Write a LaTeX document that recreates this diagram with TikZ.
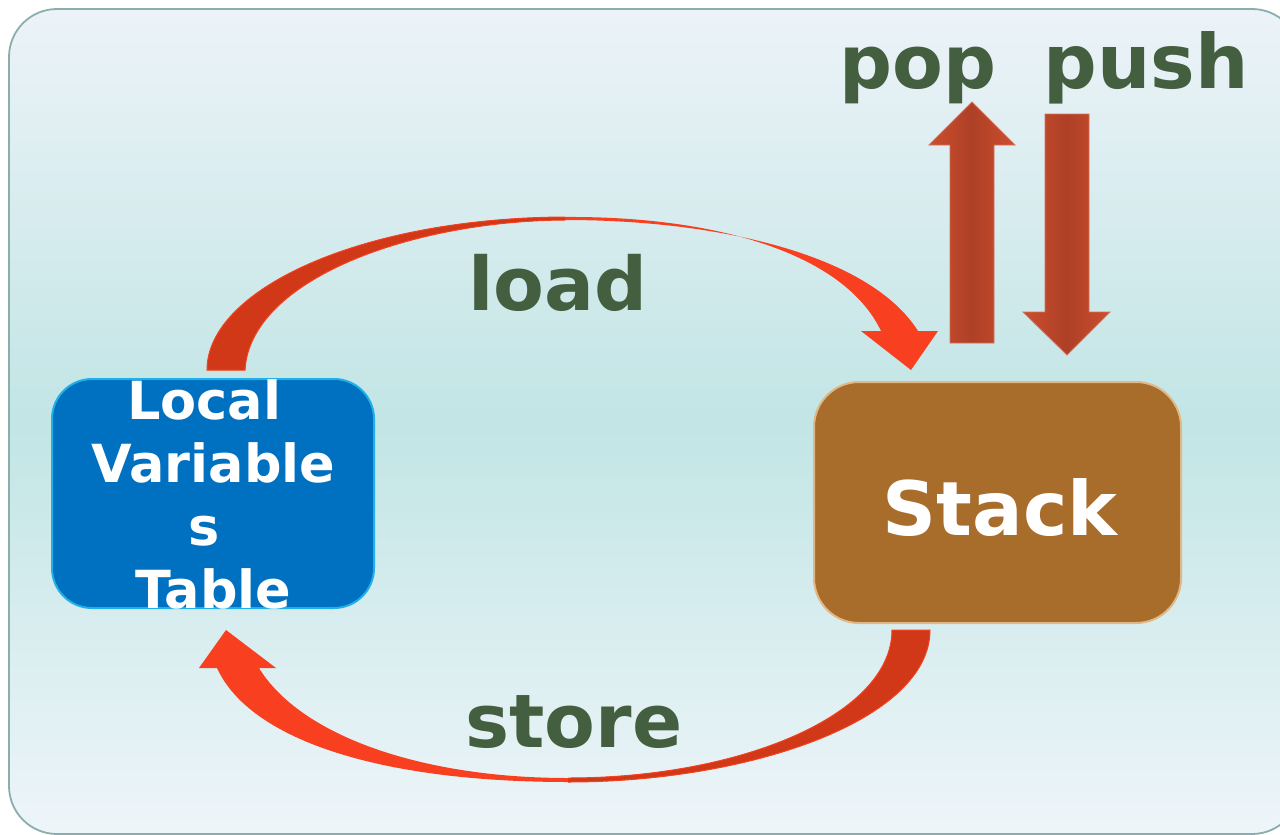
\documentclass[tikz,border=0pt]{standalone}
\usepackage{fontspec}
\setmainfont{DejaVu Sans}
\definecolor{bgtop}{HTML}{ECF3F8}
\definecolor{bgmid}{HTML}{C2E5E5}
\definecolor{bgbot}{HTML}{EEF5F9}
\definecolor{bgline}{HTML}{8AAEAE}
\definecolor{lblue}{HTML}{0070C0}
\definecolor{lblueline}{HTML}{20B0E8}
\definecolor{stk}{HTML}{A86C2B}
\definecolor{stkline}{HTML}{E0B888}
\definecolor{txtgreen}{HTML}{445E40}
\definecolor{arrdark}{HTML}{D03818}
\definecolor{arrbright}{HTML}{F84020}
\definecolor{ppedge}{HTML}{CC4E2E}
\definecolor{ppmid}{HTML}{AE4026}
\definecolor{ppline}{HTML}{D8705A}
\begin{document}
\begin{tikzpicture}[x=1pt,y=-1pt,
  boxstyle/.style={inner sep=0pt, line width=2pt},
  biglabel/.style={text=txtgreen, font=\fontsize{74}{80}\selectfont\bfseries, inner sep=0pt, anchor=base},
  whitelabel/.style={text=white, inner sep=0pt},
  blockarrow/.style={draw=ppline, line width=0.8pt, left color=ppedge, right color=ppedge, middle color=ppmid}
]
\useasboundingbox (0,0) rectangle (1280,835);
% background
\draw[bgline, line width=1.8pt, rounded corners=48pt, top color=bgtop, bottom color=bgbot, middle color=bgmid] (9,9) rectangle (1300,834);

% boxes
\node[boxstyle, draw=lblueline, fill=lblue, rounded corners=40pt, minimum width=322pt, minimum height=229pt] (lvt) at (213,493.5) {};
\node[boxstyle, draw=stkline, fill=stk, rounded corners=45pt, minimum width=367pt, minimum height=241pt] (stack) at (997.5,502.5) {};

\node[whitelabel, align=center, font=\fontsize{52.5}{63}\selectfont\bfseries] (lvttext) at (213.5,494) {Local\kern.35em\\Variable\\s\kern.35em\\Table};
\node[whitelabel, anchor=base, font=\fontsize{75}{80}\selectfont\bfseries] (stacktext) at (1000,535) {Stack};

% load arrow
\coordinate (loadtip) at (911,370);
\fill[arrbright] (207,370) .. controls (207,290) and (360,218) .. (565,217) .. controls (720,216) and (845,255) .. (881,331) -- (861,331) -- (loadtip) -- (938,331) -- (918,331) .. controls (870,255) and (720,220) .. (565,220) .. controls (410,221) and (250,280) .. (245,370) -- cycle;
\begin{scope}
\clip (150,150) rectangle (565,400);
\filldraw[fill=arrdark, draw=arrbright, line width=1pt] (207,370) .. controls (207,290) and (360,218) .. (565,217) .. controls (720,216) and (845,255) .. (881,331) -- (861,331) -- (loadtip) -- (938,331) -- (918,331) .. controls (870,255) and (720,220) .. (565,220) .. controls (410,221) and (250,280) .. (245,370) -- cycle;
\end{scope}

% store arrow
\coordinate (storetip) at (226,630);
\fill[arrbright] (930,630) .. controls (930,720) and (750,782) .. (568,782) .. controls (380,782) and (250,740) .. (217,668) -- (199,668) -- (storetip) -- (276,668) -- (259,668) .. controls (300,735) and (420,778) .. (568,778) .. controls (740,778) and (892,715) .. (892,630) -- cycle;
\begin{scope}
\clip (568,600) rectangle (1000,800);
\filldraw[fill=arrdark, draw=arrbright, line width=1pt] (930,630) .. controls (930,720) and (750,782) .. (568,782) .. controls (380,782) and (250,740) .. (217,668) -- (199,668) -- (storetip) -- (276,668) -- (259,668) .. controls (300,735) and (420,778) .. (568,778) .. controls (740,778) and (892,715) .. (892,630) -- cycle;
\end{scope}

% pop / push arrows
\draw[blockarrow] (950,343) -- (950,145) -- (929,145) -- (972,102) -- (1015,145) -- (994,145) -- (994,343) -- cycle;
\draw[blockarrow] (1045,114) -- (1045,312) -- (1023,312) -- (1067,355) -- (1110,312) -- (1089,312) -- (1089,114) -- cycle;

% labels
\node[biglabel] (loadlbl) at (558,310) {load};
\node[biglabel] (storelbl) at (574,747) {store};
\node[biglabel] (poplbl) at (918,88) {pop};
\node[biglabel, font=\fontsize{75}{80}\selectfont\bfseries] (pushlbl) at (1146,88) {push};
\end{tikzpicture}
\end{document}
